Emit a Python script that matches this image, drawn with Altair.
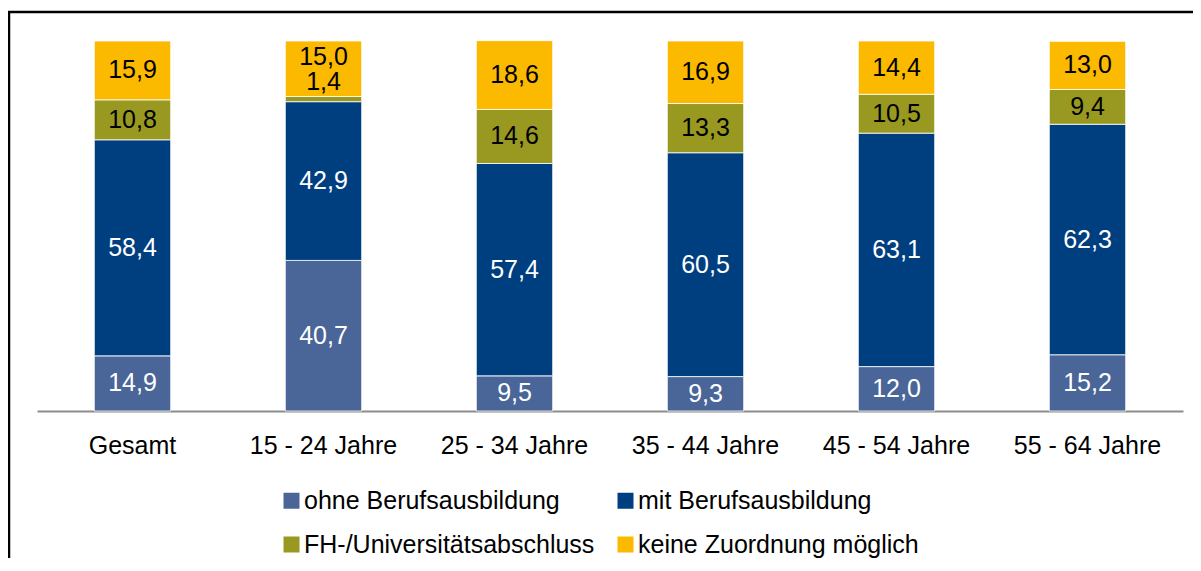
import altair as alt
import pandas as pd

categories = ["Gesamt", "15 - 24 Jahre", "25 - 34 Jahre", "35 - 44 Jahre", "45 - 54 Jahre", "55 - 64 Jahre"]
series = ["ohne Berufsausbildung", "mit Berufsausbildung", "FH-/Universitätsabschluss", "keine Zuordnung möglich"]
ohne = [14.9, 40.7, 9.5, 9.3, 12.0, 15.2]
mit = [58.4, 42.9, 57.4, 60.5, 63.1, 62.3]
fh = [10.8, 1.4, 14.6, 13.3, 10.5, 9.4]
keine = [15.9, 15.0, 18.6, 16.9, 14.4, 13.0]
colors = ["#4A6699", "#003F7F", "#999921", "#FBB900"]

rows = []
for i, c in enumerate(categories):
    for j, (s, vals) in enumerate(zip(series, [ohne, mit, fh, keine])):
        rows.append({"cat": c, "series": s, "order": j, "value": vals[i],
                     "label": f"{vals[i]:.1f}".replace(".", ",")})
df = pd.DataFrame(rows)

W, H = 1146, 370
FONT = "Liberation Sans"
FS = 25

base = alt.Chart(df).transform_stack(
    stack="value", groupby=["cat"], as_=["v0", "v1"], sort=[alt.SortField("order")]
).transform_calculate(mid="(datum.v0 + datum.v1) / 2")

xenc = alt.X("cat:N", sort=categories, title=None,
             scale=alt.Scale(paddingInner=0.6, paddingOuter=0.3),
             axis=alt.Axis(labelAngle=0, labelFontSize=FS, labelFont=FONT, labelColor="black",
                           labelPadding=22, ticks=False, domainColor="#8C8C8C", domainWidth=2))
yscale = alt.Scale(domain=[0, 100], nice=False)

bars = base.mark_bar(stroke="white", strokeWidth=0.8).encode(
    x=xenc,
    y=alt.Y("v0:Q", scale=yscale, axis=None),
    y2="v1:Q",
    color=alt.Color("series:N", sort=series,
                    scale=alt.Scale(domain=series, range=colors),
                    legend=alt.Legend(title=None, orient="none", legendX=242, legendY=447,
                                      columns=2, direction="horizontal",
                                      symbolType="square", symbolSize=256,
                                      symbolStrokeWidth=0, labelFontSize=FS, labelFont=FONT,
                                      labelColor="black", labelOffset=0, columnPadding=18,
                                      rowPadding=18, labelLimit=500)),
)

txt_color = alt.condition("datum.order <= 1", alt.value("white"), alt.value("black"))

labels = base.transform_filter("datum.cat != '15 - 24 Jahre' || datum.order <= 1").mark_text(
    fontSize=FS, font=FONT, baseline="middle").encode(
    x=alt.X("cat:N", sort=categories),
    y=alt.Y("mid:Q", scale=yscale),
    text="label:N",
    color=txt_color,
)
lab_top = base.transform_filter("datum.cat == '15 - 24 Jahre' && datum.order == 3").mark_text(
    fontSize=FS, font=FONT, baseline="middle", dy=-12).encode(
    x=alt.X("cat:N", sort=categories), y=alt.Y("mid:Q", scale=yscale), text="label:N",
    color=alt.value("black"))
lab_small = base.transform_filter("datum.cat == '15 - 24 Jahre' && datum.order == 2").mark_text(
    fontSize=FS, font=FONT, baseline="middle", dy=-17).encode(
    x=alt.X("cat:N", sort=categories), y=alt.Y("mid:Q", scale=yscale), text="label:N",
    color=alt.value("black"))

frame = alt.Chart(alt.Data(values=[{}])).mark_rect(
    fill=None, stroke="black", strokeWidth=2.5).encode(
    x=alt.value(-28), x2=alt.value(W + 40), y=alt.value(-29), y2=alt.value(H + 200))

chart = alt.layer(frame, bars, labels, lab_top, lab_small).properties(
    width=W, height=H,
    autosize=alt.AutoSizeParams(type="none"),
    padding={"left": 29, "top": 33, "right": 10, "bottom": 147},
).configure_view(stroke=None)

chart.save("out.html", embed_options={"renderer": "svg", "actions": False})
